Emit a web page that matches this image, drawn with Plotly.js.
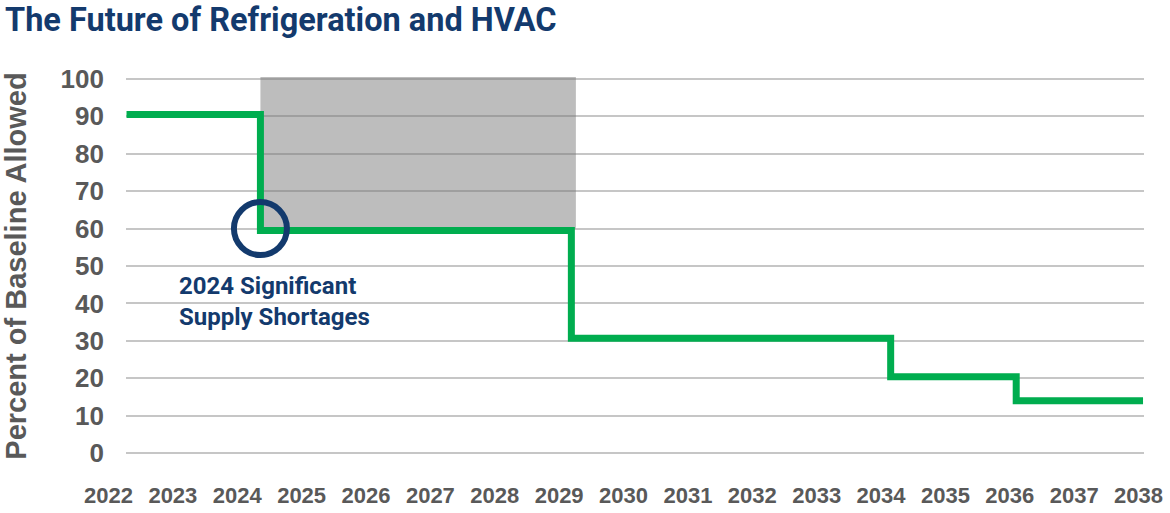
<!DOCTYPE html>
<html><head><meta charset="utf-8">
<script src="https://cdn.plot.ly/plotly-3.0.1.min.js"></script>
<style>html,body{margin:0;padding:0;background:#fff}#chart{width:1170px;height:513px}</style>
</head><body><div id="chart"></div>
<script>
// ---- data ----
const years = [2022,2023,2024,2025,2026,2027,2028,2029,2030,2031,2032,2033,2034,2035,2036,2037,2038];
const tickLabels = years.map(String);
const yTicks = [0,10,20,30,40,50,60,70,80,90,100];
// step change points (year, percent of baseline allowed)
const stepYears  = [2022.28, 2024.36, 2029.19, 2034.15, 2036.10, 2038.07];
const stepValues = [90.5, 59.5, 30.7, 20.4, 14.0, 14.0];
// shaded shortage window
const shortageYears = [2024.36, 2029.26];
const shortageLow = 60;
const shortageHigh = 100.5;
// highlighted point
const markerYears = [2024.36];
const markerValues = [60];
const noteYear = 2023.06;
const noteValue = 40.4;
const noteText = '2024 Significant<br>Supply Shortages';
const titleText = 'The Future of Refrigeration and HVAC';
const yTitleText = 'Percent of Baseline Allowed';

// ---- layout geometry ----
const W = 1170, H = 513, mL = 80, mR = 0, mT = 77, mB = 58;
const plotW = W - mL - mR;
const gridLeft = 126, gridRight = 1144;
const xr0 = 2022.272, xr1 = 2038.085;
const ppy = (gridRight - gridLeft) / (xr1 - xr0);
const x2range = [xr0 - (gridLeft - mL) / ppy, xr1 + (W - mR - gridRight) / ppy];

const navy = '#133a6d';
const grey = '#595959';

const traces = [
  {
    x: [shortageYears[0], shortageYears[1], shortageYears[1], shortageYears[0], shortageYears[0]],
    y: [shortageLow, shortageLow, shortageHigh, shortageHigh, shortageLow],
    mode: 'lines', fill: 'toself', fillcolor: 'rgba(114,114,114,0.47)',
    line: {width: 0}, hoverinfo: 'skip', showlegend: false
  },
  {
    x: stepYears, y: stepValues, mode: 'lines',
    line: {shape: 'hv', color: '#00ad4f', width: 7},
    hoverinfo: 'skip', showlegend: false
  },
  {
    x: markerYears, y: markerValues, mode: 'markers',
    marker: {symbol: 'circle-open', size: 53, color: navy, line: {width: 6, color: navy}},
    hoverinfo: 'skip', showlegend: false
  },
  {
    x: years, y: years.map(() => null), xaxis: 'x2', yaxis: 'y2',
    mode: 'markers', hoverinfo: 'skip', showlegend: false
  }
];

const layout = {
  width: W, height: H,
  margin: {l: mL, r: mR, t: mT, b: mB, pad: 0},
  paper_bgcolor: '#ffffff', plot_bgcolor: 'rgba(0,0,0,0)',
  showlegend: false, hovermode: false,
  title: {
    text: titleText,
    font: {family: 'Roboto', size: 32.5, weight: 700, color: navy},
    xref: 'container', x: 5 / W, xanchor: 'left',
    yref: 'container', y: 1 - 20 / H, yanchor: 'middle'
  },
  xaxis: {
    domain: [(gridLeft - mL) / plotW, (gridRight - mL) / plotW],
    range: [xr0, xr1], showgrid: false, zeroline: false, showline: false,
    showticklabels: false, ticks: ''
  },
  yaxis: {
    range: [-0.5, 100.5], tickvals: yTicks, ticktext: yTicks.map(String),
    showgrid: true, gridcolor: '#c6c6c6', gridwidth: 2,
    zeroline: false, showline: false, ticks: '',
    tickfont: {family: 'Liberation Sans', size: 26, weight: 700, color: grey},
    ticklabelstandoff: 21,
    title: {text: yTitleText, standoff: 25,
      font: {family: 'Liberation Sans', size: 29, weight: 700, color: grey}}
  },
  xaxis2: {
    domain: [0, 1], anchor: 'y2', range: x2range,
    tickvals: years, ticktext: tickLabels,
    showgrid: false, zeroline: false, showline: false, ticks: '',
    tickfont: {family: 'Liberation Sans', size: 22, weight: 700, color: grey},
    ticklabelstandoff: 25
  },
  yaxis2: {domain: [0, 1], anchor: 'x2', range: [0, 1], visible: false},
  annotations: [{
    xref: 'x', yref: 'y', x: noteYear, y: noteValue,
    xanchor: 'left', yanchor: 'middle', align: 'left', showarrow: false,
    text: noteText,
    font: {family: 'Roboto', size: 24, weight: 700, color: navy}
  }]
};

Plotly.newPlot('chart', traces, layout, {staticPlot: true, displayModeBar: false});
</script>
</body></html>
